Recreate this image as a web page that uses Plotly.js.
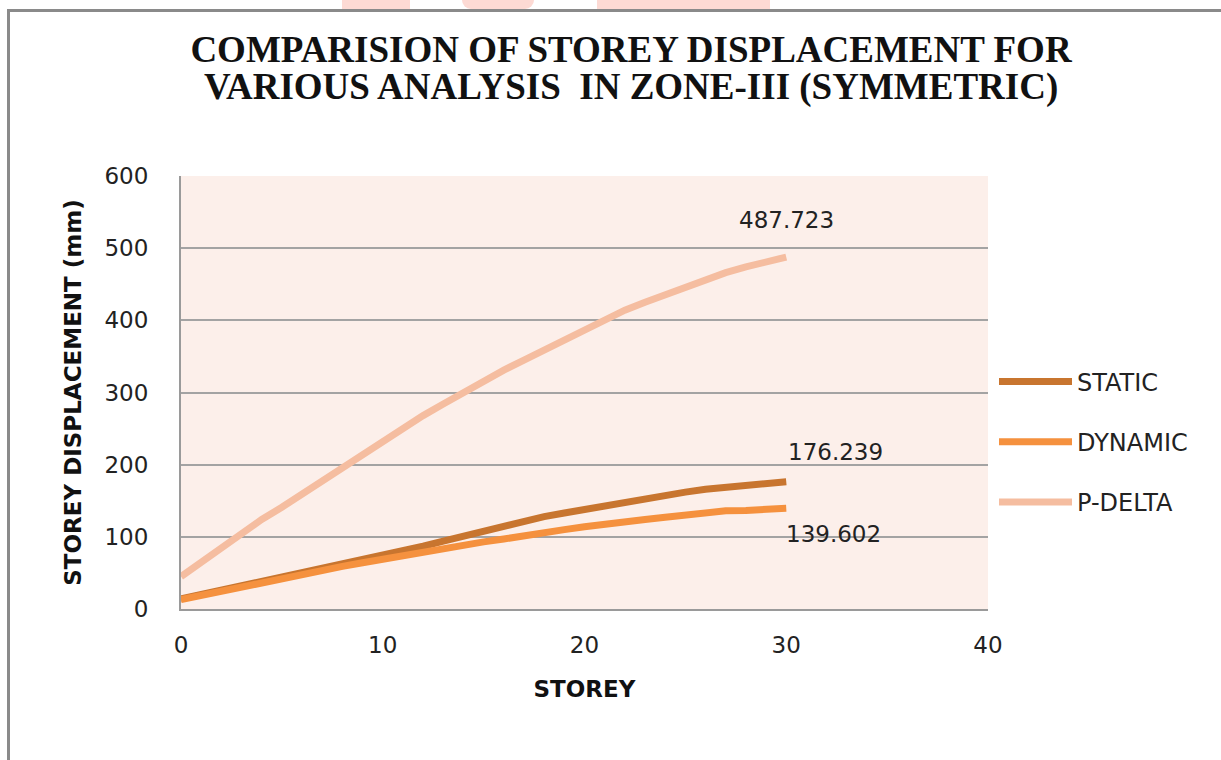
<!DOCTYPE html>
<html>
<head>
<meta charset="utf-8">
<script src="https://cdn.plot.ly/plotly-3.0.1.min.js"></script>
<style>
  html, body { margin: 0; padding: 0; overflow: hidden; background: #fff; }
  #wrap { position: relative; width: 1221px; height: 760px; overflow: hidden; }
  #chart { position: absolute; left: 0; top: 0; width: 1221px; height: 760px; }
  #frame { position: absolute; left: 7px; top: 9px; width: 1400px; height: 900px;
           border-left: 3px solid #8a8a8a; border-top: 3px solid #8a8a8a; pointer-events: none; }
  .wm { position: absolute; top: 0; height: 9px; background: #fddad4; }
</style>
</head>
<body>
<div id="wrap">
  <div class="wm" style="left:342px;width:68px;"></div>
  <div class="wm" style="left:462px;width:72px;border-radius:0 0 40px 40px;"></div>
  <div class="wm" style="left:597px;width:173px;"></div>
  <div id="chart"></div>
  <div id="frame"></div>
</div>
<script>
// ---- data ----
const storeys = [0,1,2,3,4,5,6,7,8,9,10,11,12,13,14,15,16,17,18,19,20,21,22,23,24,25,26,27,28,29,30];
const staticDisp  = [14,20,26,32,38,44,49,55,61,67,73,80,87,94,101,108,115,122,128,133,138,144,149,153,157,162,166,169,172,174,176.239];
const dynamicDisp = [13,19,25,31,37,43,48,54,59,64,69,74,79,85,89,93,97,102,106,110,114,118,121,124,127,130,133,136,136.5,138,139.602];
const pdeltaDisp  = [45,65,84,104,124,141,159,178,197,215,233,250,268,284,300,316,331,345,359,374,388,401,414,425,435,447,457,466,474,481,487.723];
const seriesNames = ['STATIC','DYNAMIC','P-DELTA'];
const xTicks = [0,10,20,30,40];
const yTicks = [0,100,200,300,400,500,600];

const colors = ['#c8752f','#f5913e','#f5bda0'];
const seriesData = [staticDisp, dynamicDisp, pdeltaDisp];

const traces = seriesData.map((ys, i) => ({
  type: 'scatter', mode: 'lines',
  x: storeys, y: ys, name: seriesNames[i],
  legendgroup: 'g' + i,
  line: { color: colors[i], width: 7, shape: 'linear' },
  hoverinfo: 'x+y+name'
}));

const tickFont = { family: 'DejaVu Sans', size: 23, color: '#222' };
const last = a => a[a.length - 1];

const layout = {
  width: 1221, height: 760,
  paper_bgcolor: 'rgba(0,0,0,0)',
  plot_bgcolor: '#fcefea',
  margin: { l: 181, r: 233, t: 176, b: 151 },
  title: {
    text: 'COMPARISION OF STOREY DISPLACEMENT FOR',
    font: { family: 'Liberation Serif', size: 37, color: '#111', weight: 'bold' },
    x: 631/1221, xanchor: 'center', xref: 'container',
    y: 1 - 49/760, yanchor: 'middle', yref: 'container'
  },
  xaxis: {
    range: [0, 40], tickvals: xTicks, ticktext: xTicks.map(String),
    showgrid: false, zeroline: false,
    showline: true, linecolor: '#9a9a9a', linewidth: 2,
    ticks: '', tickfont: tickFont, ticklabelstandoff: 14,
    title: { text: 'STOREY', font: { family: 'DejaVu Sans', size: 23, color: '#111', weight: 'bold' }, standoff: 24 },
    fixedrange: true
  },
  yaxis: {
    range: [0, 600], tickvals: yTicks, ticktext: yTicks.map(String),
    showgrid: true, gridcolor: '#a3a3a3', gridwidth: 1.5, zeroline: false,
    showline: true, linecolor: '#9a9a9a', linewidth: 2,
    ticks: '', tickfont: tickFont, ticklabelstandoff: 26,
    title: { text: 'STOREY DISPLACEMENT (mm)', font: { family: 'DejaVu Sans', size: 23, color: '#111', weight: 'bold' }, standoff: 16 },
    fixedrange: true
  },
  showlegend: true,
  legend: {
    x: (994-181)/807, xanchor: 'left', y: (609-442)/433, yanchor: 'middle',
    traceorder: 'grouped', tracegroupgap: 26,
    itemwidth: 73,
    font: { family: 'DejaVu Sans', size: 24, color: '#222' },
    bgcolor: 'rgba(0,0,0,0)'
  },
  annotations: [
    { xref: 'paper', yref: 'paper', x: (631-181)/807, y: 1 + (176-87)/433,
      text: 'VARIOUS ANALYSIS  IN ZONE-III (SYMMETRIC)', showarrow: false,
      xanchor: 'center', yanchor: 'middle',
      font: { family: 'Liberation Serif', size: 37, color: '#111', weight: 'bold' } },
    { x: 30, y: last(pdeltaDisp), text: String(last(pdeltaDisp)), showarrow: false,
      xanchor: 'center', yanchor: 'middle', yshift: 37, font: tickFont },
    { x: 30, y: last(staticDisp), text: String(last(staticDisp)), showarrow: false,
      xanchor: 'center', yanchor: 'middle', xshift: 49, yshift: 30, font: tickFont },
    { x: 30, y: last(dynamicDisp), text: String(last(dynamicDisp)), showarrow: false,
      xanchor: 'center', yanchor: 'middle', xshift: 47, yshift: -26, font: tickFont }
  ]
};

Plotly.newPlot('chart', traces, layout, { displayModeBar: false, staticPlot: false });
</script>
</body>
</html>
